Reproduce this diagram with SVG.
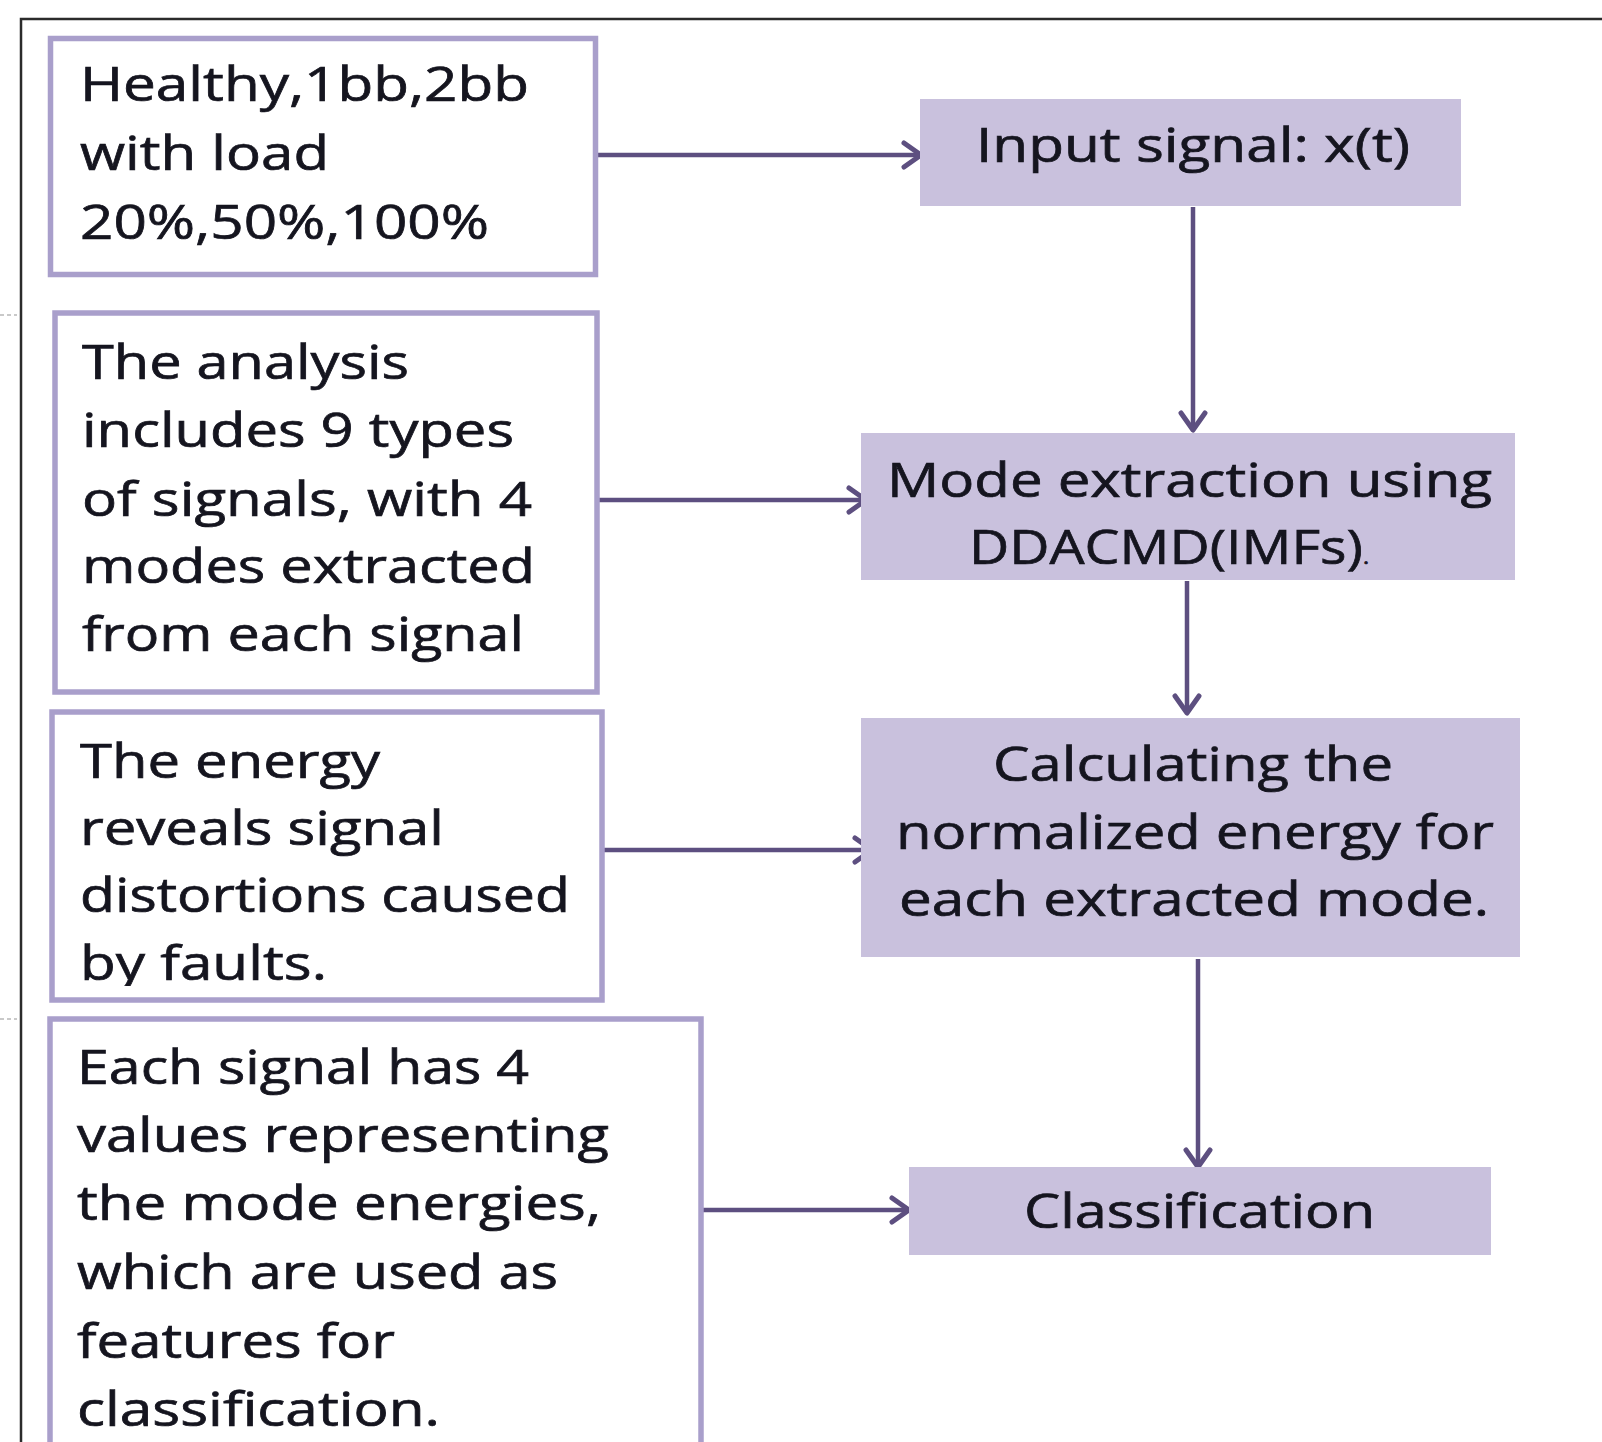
<svg xmlns="http://www.w3.org/2000/svg" width="1602" height="1442" viewBox="0 0 1602 1442">
  <style>
    .frame { fill: none; stroke: #2b2b2b; stroke-width: 2.5; }
    .note { fill: #ffffff; stroke: #a99fcb; stroke-width: 5.5; }
    .step { fill: #c9c1dd; stroke: none; }
    .t { font-family: "Open Sans", "Noto Sans", "Liberation Sans", sans-serif; font-size: 47px; fill: #15151f; stroke: #15151f; stroke-width: 0.7; }
    .c { font-family: "Open Sans", "Noto Sans", "Liberation Sans", sans-serif; font-size: 48px; fill: #15151f; stroke: #15151f; stroke-width: 0.7; }
    .conn { stroke: #5d4f80; stroke-width: 4.5; fill: none; marker-end: url(#arr); }
    .dash { stroke: #b8b8b8; stroke-width: 1.5; stroke-dasharray: 4 3; }
  </style>
  <defs>
    <marker id="arr" markerUnits="userSpaceOnUse" markerWidth="26" markerHeight="30" refX="21" refY="15" orient="auto">
      <path d="M4,3 L21,15 L4,27" fill="none" stroke="#5d4f80" stroke-width="5" stroke-linecap="round" stroke-linejoin="round"/>
    </marker>
    <clipPath id="clip3"><rect x="52" y="712" width="550" height="274"/></clipPath>
  </defs>
  <rect width="1602" height="1442" fill="#ffffff"/>
  <rect class="frame" x="21" y="19" width="1610" height="1460"/>
  <line class="dash" x1="0" y1="315" x2="17" y2="315"/>
  <line class="dash" x1="0" y1="1019" x2="17" y2="1019"/>

  <g id="connectors">
    <line class="conn" x1="596" y1="155" x2="921" y2="155"/>
    <line class="conn" x1="1193" y1="207" x2="1193" y2="430"/>
    <line class="conn" x1="599" y1="500" x2="866" y2="500"/>
    <line class="conn" x1="1187" y1="581" x2="1187" y2="713"/>
    <line class="conn" x1="604" y1="850" x2="872" y2="850"/>
    <line class="conn" x1="1198" y1="959" x2="1198" y2="1167"/>
    <line class="conn" x1="703" y1="1210" x2="909" y2="1210"/>
  </g>

  <g id="note-loads">
    <rect class="note" x="50.5" y="38.5" width="545" height="236"/>
    <text class="t" x="80" y="101" textLength="449" lengthAdjust="spacingAndGlyphs">Healthy,1bb,2bb</text>
    <text class="t" x="80" y="170" textLength="249" lengthAdjust="spacingAndGlyphs">with load</text>
    <text class="t" x="80" y="239" textLength="409" lengthAdjust="spacingAndGlyphs">20%,50%,100%</text>
  </g>

  <g id="note-analysis">
    <rect class="note" x="55" y="313" width="542" height="379"/>
    <text class="t" x="82" y="379" textLength="327" lengthAdjust="spacingAndGlyphs">The analysis</text>
    <text class="t" x="82" y="447" textLength="432" lengthAdjust="spacingAndGlyphs">includes 9 types</text>
    <text class="t" x="82" y="516" textLength="450" lengthAdjust="spacingAndGlyphs">of signals, with 4</text>
    <text class="t" x="82" y="583" textLength="453" lengthAdjust="spacingAndGlyphs">modes extracted</text>
    <text class="t" x="82" y="651" textLength="442" lengthAdjust="spacingAndGlyphs">from each signal</text>
  </g>

  <g id="note-energy">
    <rect class="note" x="52" y="712" width="550" height="288"/>
    <g clip-path="url(#clip3)">
      <text class="t" x="80" y="778" textLength="300" lengthAdjust="spacingAndGlyphs">The energy</text>
      <text class="t" x="80" y="845" textLength="364" lengthAdjust="spacingAndGlyphs">reveals signal</text>
      <text class="t" x="80" y="912" textLength="490" lengthAdjust="spacingAndGlyphs">distortions caused</text>
      <text class="t" x="80" y="980" textLength="247" lengthAdjust="spacingAndGlyphs">by faults.</text>
    </g>
  </g>

  <g id="note-features">
    <rect class="note" x="50" y="1019" width="651" height="520"/>
    <text class="t" x="77" y="1084" textLength="452" lengthAdjust="spacingAndGlyphs">Each signal has 4</text>
    <text class="t" x="77" y="1152" textLength="532" lengthAdjust="spacingAndGlyphs">values representing</text>
    <text class="t" x="77" y="1220" textLength="524" lengthAdjust="spacingAndGlyphs">the mode energies,</text>
    <text class="t" x="77" y="1289" textLength="481" lengthAdjust="spacingAndGlyphs">which are used as</text>
    <text class="t" x="77" y="1358" textLength="318" lengthAdjust="spacingAndGlyphs">features for</text>
    <text class="t" x="77" y="1426" textLength="363" lengthAdjust="spacingAndGlyphs">classification.</text>
  </g>

  <g id="step-input">
    <rect class="step" x="920" y="99" width="541" height="107"/>
    <text class="c" x="976" y="162" textLength="434" lengthAdjust="spacingAndGlyphs">Input signal: x(t)</text>
  </g>

  <g id="step-mode">
    <rect class="step" x="861" y="433" width="654" height="147"/>
    <text class="c" x="887" y="497" textLength="605" lengthAdjust="spacingAndGlyphs">Mode extraction using</text>
    <text class="c" x="969" y="564" textLength="400" lengthAdjust="spacingAndGlyphs">DDACMD(IMFs)<tspan font-size="20">.</tspan></text>
  </g>

  <g id="step-energy">
    <rect class="step" x="861" y="718" width="659" height="239"/>
    <text class="c" x="993" y="781" textLength="400" lengthAdjust="spacingAndGlyphs">Calculating the</text>
    <text class="c" x="896" y="849" textLength="598" lengthAdjust="spacingAndGlyphs">normalized energy for</text>
    <text class="c" x="899" y="916" textLength="590" lengthAdjust="spacingAndGlyphs">each extracted mode.</text>
  </g>

  <g id="step-classification">
    <rect class="step" x="909" y="1167" width="582" height="88"/>
    <text class="c" x="1024" y="1228" textLength="351" lengthAdjust="spacingAndGlyphs">Classification</text>
  </g>
</svg>
